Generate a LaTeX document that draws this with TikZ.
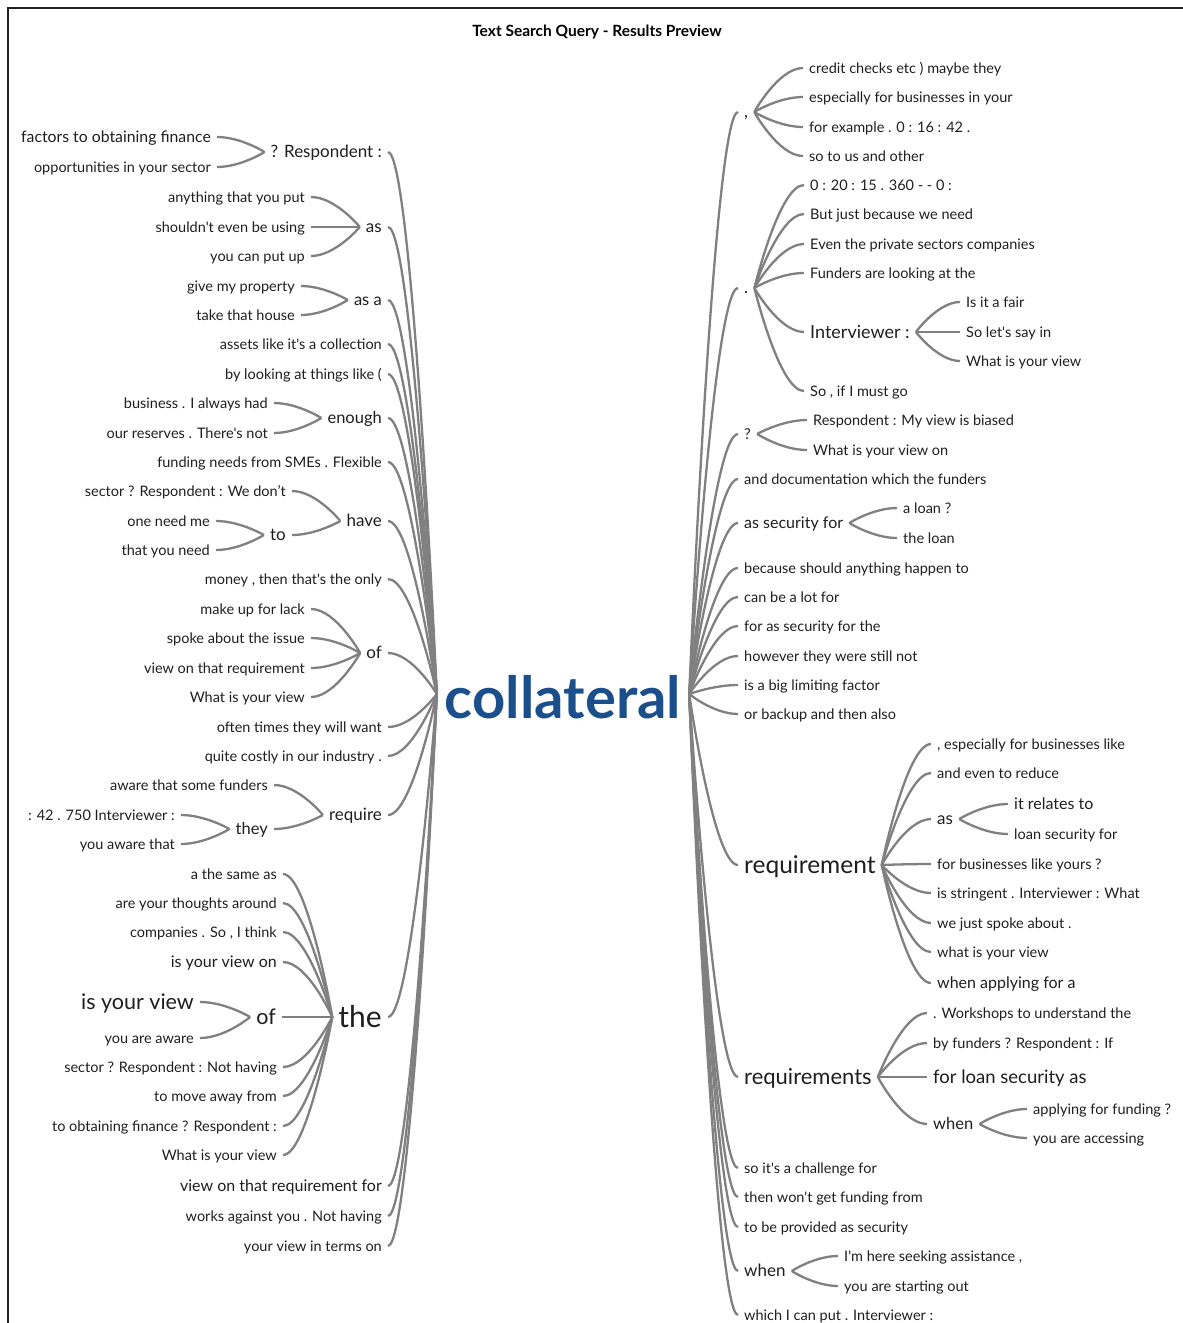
\documentclass[tikz,border=0pt]{standalone}
\usepackage{fontspec}
\setmainfont{Lato}[Ligatures=TeXOff]
\usetikzlibrary{calc}
\definecolor{wordc}{HTML}{1E1E1E}
\definecolor{linkc}{HTML}{808080}
\definecolor{rootc}{HTML}{1B4F8C}
\definecolor{framec}{HTML}{222222}

\begin{document}
\begin{tikzpicture}[x=1pt,y=-1pt,
  w/.style={text=wordc, inner xsep=6pt, inner ysep=0pt,
    /utils/exec={\pgfmathsetlengthmacro\wordtxh{0.8*#1pt}\pgfmathsetlengthmacro\wordtxd{0.1*#1pt}},
    text height=\wordtxh, text depth=\wordtxd, font=\fontsize{#1}{#1}\selectfont},
  w/.default=14.5,
  lw/.style={w=#1, anchor=east}, lw/.default=14.5,
  rw/.style={w=#1, anchor=west}, rw/.default=14.5,
  link/.style={draw=linkc, line width=2.3pt},
  br/.style={to path={let \p1=(\tikztostart),\p2=(\tikztotarget) in .. controls ({0.5*\x1+0.5*\x2},\y1) and (\p2) .. (\p2)}},
]
\useasboundingbox (0,0) rectangle (1183,1323);
\draw[framec, line width=2pt] (8,1323) -- (8,8) -- (1183,8);

\node[font=\bfseries\fontsize{15.5}{18}\selectfont, text=black] (title) at (597,32) {Text Search Query - Results Preview};

% central word
\node[text=rootc, font=\bfseries\fontsize{58}{58}\selectfont, inner xsep=8pt, inner ysep=0pt, text height=48pt, text depth=0pt] (root) at (563,694) {collateral};

% ---------- left branches ----------
\node[lw=17] (l1) at (388,152) {? Respondent :};
\node[lw=15.8] (l1a) at (217,137) {factors to obtaining finance};
\node[lw] (l1b) at (217,167) {opportunities in your sector};
\node[lw=17] (l2) at (388,227) {as};
\node[lw] (l2a) at (311,197) {anything that you put};
\node[lw] (l2b) at (311,227) {shouldn't even be using};
\node[lw] (l2c) at (311,256) {you can put up};
\node[lw=16.5] (l3) at (388,300) {as a};
\node[lw] (l3a) at (301,286) {give my property};
\node[lw] (l3b) at (301,315) {take that house};
\node[lw] (l4) at (388,344) {assets like it's a collection};
\node[lw] (l5) at (388,374) {by looking at things like (};
\node[lw=16.5] (l6) at (388,418) {enough};
\node[lw] (l6a) at (274,403) {business . I always had};
\node[lw] (l6b) at (274,433) {our reserves . There's not};
\node[lw] (l7) at (388,462) {funding needs from SMEs . Flexible};
\node[lw=17] (l8) at (388,521) {have};
\node[lw] (l8a) at (292,491) {sector ? Respondent : We don’t};
\node[lw=17] (l8b) at (292,535) {to};
\node[lw] (l8b1) at (216,521) {one need me};
\node[lw] (l8b2) at (216,550) {that you need};
\node[lw] (l9) at (388,579) {money , then that's the only};
\node[lw=17] (l10) at (388,653) {of};
\node[lw] (l10a) at (311,609) {make up for lack};
\node[lw] (l10b) at (311,638) {spoke about the issue};
\node[lw] (l10c) at (311,668) {view on that requirement};
\node[lw] (l10d) at (311,697) {What is your view};
\node[lw] (l11) at (388,727) {often times they will want};
\node[lw] (l12) at (388,756) {quite costly in our industry .};
\node[lw=17] (l13) at (388,815) {require};
\node[lw] (l13a) at (274,785) {aware that some funders};
\node[lw=16.5] (l13b) at (274,829) {they};
\node[lw] (l13b1) at (181,815) {: 42 . 750 Interviewer :};
\node[lw] (l13b2) at (181,844) {you aware that};
\node[lw=30] (l14) at (388,1017) {the};
\node[lw] (l14a) at (283,874) {a the same as};
\node[lw] (l14b) at (283,903) {are your thoughts around};
\node[lw] (l14c) at (283,932) {companies . So , I think};
\node[lw=16] (l14d) at (283,962) {is your view on};
\node[lw=21.5] (l14e) at (282,1017) {of};
\node[lw=21.5] (l14e1) at (200,1002) {is your view};
\node[lw] (l14e2) at (200,1038) {you are aware};
\node[lw] (l14f) at (283,1067) {sector ? Respondent : Not having};
\node[lw] (l14g) at (283,1096) {to move away from};
\node[lw] (l14h) at (283,1126) {to obtaining finance ? Respondent :};
\node[lw] (l14i) at (283,1155) {What is your view};
\node[lw=16] (l15) at (388,1186) {view on that requirement for};
\node[lw] (l16) at (388,1216) {works against you . Not having};
\node[lw] (l17) at (388,1246) {your view in terms on};

% ---------- right branches ----------
\node[rw=17] (r1) at (738,112) {,};
\node[rw] (r1a) at (803,68) {credit checks etc ) maybe they};
\node[rw] (r1b) at (803,97) {especially for businesses in your};
\node[rw] (r1c) at (803,127) {for example . 0 : 16 : 42 .};
\node[rw] (r1d) at (803,156) {so to us and other};
\node[rw=17] (r2) at (738,288) {.};
\node[rw] (r2a) at (804,185) {0 : 20 : 15 . 360 - - 0 :};
\node[rw] (r2b) at (804,214) {But just because we need};
\node[rw] (r2c) at (804,244) {Even the private sectors companies};
\node[rw] (r2d) at (804,273) {Funders are looking at the};
\node[rw=18] (r2e) at (804,332) {Interviewer :};
\node[rw] (r2e1) at (960,302) {Is it a fair};
\node[rw] (r2e2) at (960,332) {So let's say in};
\node[rw] (r2e3) at (960,361) {What is your view};
\node[rw] (r2f) at (804,391) {So , if I must go};
\node[rw=15] (r3) at (738,434) {?};
\node[rw] (r3a) at (807,420) {Respondent : My view is biased};
\node[rw] (r3b) at (807,450) {What is your view on};
\node[rw] (r4) at (738,479) {and documentation which the funders};
\node[rw=16] (r5) at (738,523) {as security for};
\node[rw] (r5a) at (897,508) {a loan ?};
\node[rw] (r5b) at (897,538) {the loan};
\node[rw] (r6) at (738,568) {because should anything happen to};
\node[rw] (r7) at (738,597) {can be a lot for};
\node[rw] (r8) at (738,626) {for as security for the};
\node[rw] (r9) at (738,656) {however they were still not};
\node[rw] (r10) at (738,685) {is a big limiting factor};
\node[rw] (r11) at (738,714) {or backup and then also};
\node[rw=24.5] (r12) at (738,865) {requirement};
\node[rw] (r12a) at (931,744) {, especially for businesses like};
\node[rw] (r12b) at (931,773) {and even to reduce};
\node[rw=17] (r12c) at (931,819) {as};
\node[rw=16] (r12c1) at (1008,804) {it relates to};
\node[rw] (r12c2) at (1008,834) {loan security for};
\node[rw] (r12d) at (931,864) {for businesses like yours ?};
\node[rw] (r12e) at (931,893) {is stringent . Interviewer : What};
\node[rw] (r12f) at (931,923) {we just spoke about .};
\node[rw] (r12g) at (931,952) {what is your view};
\node[rw=16] (r12h) at (931,983) {when applying for a};
\node[rw=22] (r13) at (738,1077) {requirements};
\node[rw] (r13a) at (927,1013) {. Workshops to understand the};
\node[rw] (r13b) at (927,1043) {by funders ? Respondent : If};
\node[rw=18.5] (r13c) at (927,1077) {for loan security as};
\node[rw=16.5] (r13d) at (927,1124) {when};
\node[rw] (r13d1) at (1027,1109) {applying for funding ?};
\node[rw] (r13d2) at (1027,1138) {you are accessing};
\node[rw] (r14) at (738,1168) {so it's a challenge for};
\node[rw] (r15) at (738,1197) {then won't get funding from};
\node[rw] (r16) at (738,1227) {to be provided as security};
\node[rw=17] (r17) at (738,1271) {when};
\node[rw] (r17a) at (838,1256) {I'm here seeking assistance ,};
\node[rw] (r17b) at (838,1286) {you are starting out};
\node[rw] (r18) at (738,1315) {which I can put . Interviewer :};

% ---------- connectors ----------
\foreach \ch/\pa in {l1/root,l2/root,l3/root,l4/root,l5/root,l6/root,l7/root,l8/root,l9/root,
  l10/root,l11/root,l12/root,l13/root,l14/root,l15/root,l16/root,l17/root,
  l1a/l1,l1b/l1,l2a/l2,l2b/l2,l2c/l2,l3a/l3,l3b/l3,l6a/l6,l6b/l6,l8a/l8,l8b/l8,
  l8b1/l8b,l8b2/l8b,l10a/l10,l10b/l10,l10c/l10,l10d/l10,l13a/l13,l13b/l13,
  l13b1/l13b,l13b2/l13b,l14a/l14,l14b/l14,l14c/l14,l14d/l14,l14e/l14,l14f/l14,
  l14g/l14,l14h/l14,l14i/l14,l14e1/l14e,l14e2/l14e}
  \draw[link] (\ch.east) to[br] (\pa.west);

\foreach \ch/\pa in {r1/root,r2/root,r3/root,r4/root,r5/root,r6/root,r7/root,r8/root,r9/root,
  r10/root,r11/root,r12/root,r13/root,r14/root,r15/root,r16/root,r17/root,r18/root,
  r1a/r1,r1b/r1,r1c/r1,r1d/r1,r2a/r2,r2b/r2,r2c/r2,r2d/r2,r2e/r2,r2f/r2,
  r2e1/r2e,r2e2/r2e,r2e3/r2e,r3a/r3,r3b/r3,r5a/r5,r5b/r5,
  r12a/r12,r12b/r12,r12c/r12,r12d/r12,r12e/r12,r12f/r12,r12g/r12,r12h/r12,
  r12c1/r12c,r12c2/r12c,r13a/r13,r13b/r13,r13c/r13,r13d/r13,r13d1/r13d,r13d2/r13d,
  r17a/r17,r17b/r17}
  \draw[link] (\ch.west) to[br] (\pa.east);
\end{tikzpicture}
\end{document}
